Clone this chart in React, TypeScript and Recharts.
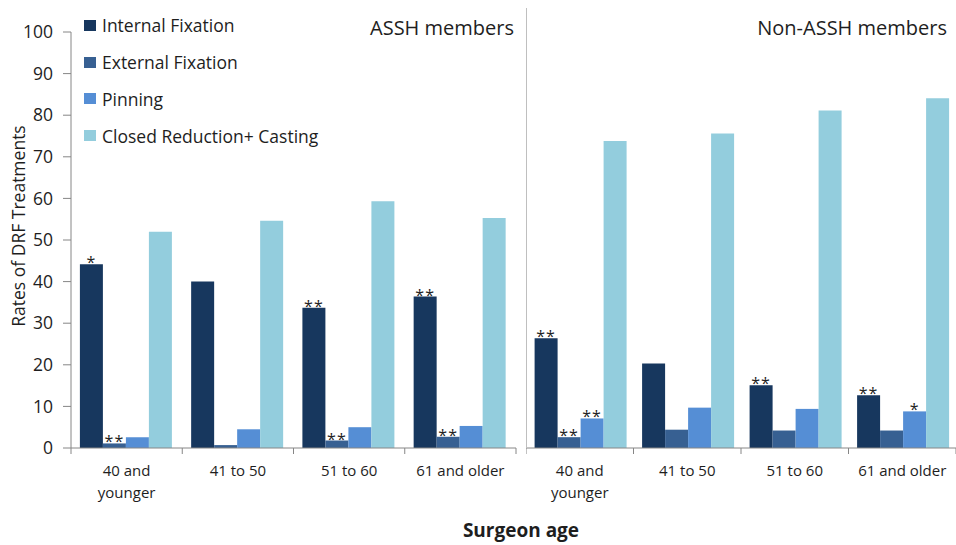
import React from 'react';
import { BarChart, Bar, XAxis, YAxis, LabelList, Legend } from 'recharts';

const categories = ['40 and younger', '41 to 50', '51 to 60', '61 and older'];
const categoryLabelLines = [['40 and', 'younger'], ['41 to 50'], ['51 to 60'], ['61 and older']];
const seriesNames = ['Internal Fixation', 'External Fixation', 'Pinning', 'Closed Reduction+ Casting'];
const seriesColors = ['#17375e', '#376092', '#558ed5', '#93cddd'];
const yTicks = [0, 10, 20, 30, 40, 50, 60, 70, 80, 90, 100];
const panelTitles = ['ASSH members', 'Non-ASSH members'];
const yAxisTitle = 'Rates of DRF Treatments';
const xAxisTitle = 'Surgeon age';

// ASSH members
const asshInternal = [44.2, 40.0, 33.7, 36.4];
const asshExternal = [1.1, 0.7, 1.8, 2.7];
const asshPinning = [2.6, 4.5, 5.0, 5.3];
const asshClosed = [52.0, 54.6, 59.3, 55.3];
const asshInternalSig = ['*', '', '**', '**'];
const asshExternalSig = ['**', '', '**', '**'];
const asshPinningSig = ['', '', '', ''];

// Non-ASSH members
const nonInternal = [26.4, 20.3, 15.1, 12.7];
const nonExternal = [2.6, 4.4, 4.2, 4.2];
const nonPinning = [7.1, 9.7, 9.4, 8.8];
const nonClosed = [73.8, 75.6, 81.1, 84.1];
const nonInternalSig = ['**', '', '**', '**'];
const nonExternalSig = ['**', '', '', ''];
const nonPinningSig = ['**', '', '', '*'];

const FONT = "'Open Sans', 'Noto Sans', sans-serif";
const TEXT = '#1e1e1e';
const AXIS = '#868686';

function buildRows(
  internal: number[], external: number[], pinning: number[], closed: number[],
  iSig: string[], eSig: string[], pSig: string[]
) {
  return categories.map((c, i) => ({
    category: c,
    internal: internal[i],
    external: external[i],
    pinning: pinning[i],
    closed: closed[i],
    internalSig: iSig[i],
    externalSig: eSig[i],
    pinningSig: pSig[i],
  }));
}

const asshRows = buildRows(asshInternal, asshExternal, asshPinning, asshClosed, asshInternalSig, asshExternalSig, asshPinningSig);
const nonRows = buildRows(nonInternal, nonExternal, nonPinning, nonClosed, nonInternalSig, nonExternalSig, nonPinningSig);

const SigLabel = (props: any) => {
  const { x, y, width, value } = props;
  if (!value) return null;
  return (
    <text
      x={Number(x) + Number(width) / 2}
      y={Number(y) + 4}
      textAnchor="middle"
      fontSize={16}
      fontFamily={FONT}
      fill={TEXT}
      letterSpacing={1}
    >
      {value}
    </text>
  );
};

const XTick = (props: any) => {
  const { x, y, payload, index, width, visibleTicksCount } = props;
  const count = visibleTicksCount || categories.length;
  const half = typeof payload?.offset === 'number' && payload.offset > 0 ? payload.offset : Number(width) / count / 2;
  const lines = categoryLabelLines[index] ?? [String(payload?.value)];
  return (
    <g>
      <line x1={x - half} x2={x - half} y1={y} y2={y + 6} stroke={AXIS} />
      {index === count - 1 && <line x1={x + half} x2={x + half} y1={y} y2={y + 6} stroke={AXIS} />}
      <text x={x} y={y + 28} textAnchor="middle" fontSize={15} fontFamily={FONT} fill={TEXT}>
        {lines.map((l, k) => (
          <tspan key={k} x={x} dy={k === 0 ? 0 : 22}>{l}</tspan>
        ))}
      </text>
    </g>
  );
};

const LegendContent = (props: any) => {
  const payload = [...(props.payload || [])].sort(
    (a: any, b: any) => seriesNames.indexOf(a.value) - seriesNames.indexOf(b.value)
  );
  return (
    <div style={{ fontFamily: FONT, height: 0, overflow: 'visible' }}>
      {payload.map((e: any, i: number) => (
        <div key={i} style={{ display: 'flex', alignItems: 'center', height: 36.8 }}>
          <span style={{ display: 'inline-block', width: 12, height: 11, background: e.color, marginRight: 6 }} />
          <span style={{ fontSize: 17.5, color: TEXT, lineHeight: '20px', whiteSpace: 'nowrap' }}>{e.value}</span>
        </div>
      ))}
    </div>
  );
};

function renderBars(showLegend: boolean) {
  const keys = ['internal', 'external', 'pinning', 'closed'];
  return keys.map((k, i) => (
    <Bar
      key={k}
      dataKey={k}
      name={seriesNames[i]}
      fill={seriesColors[i]}
      isAnimationActive={false}
      legendType={showLegend ? 'square' : 'none'}
    >
      {i < 3 && <LabelList dataKey={`${k}Sig`} content={SigLabel} />}
    </Bar>
  ));
}

export default function App() {
  return (
    <div style={{ position: 'absolute', left: 0, top: 0, width: 956, height: 545, background: '#fff', fontFamily: FONT, overflow: 'hidden' }}>
      <div style={{ position: 'absolute', left: 0, top: 0 }}>
        <BarChart width={526} height={545} data={asshRows} margin={{ top: 32, right: 10, bottom: 37, left: 0 }} barCategoryGap="8%" barGap={0}>
          <YAxis
            domain={[0, 100]}
            ticks={yTicks}
            interval={0}
            width={71}
            tickSize={8}
            tickMargin={10}
            axisLine={{ stroke: AXIS }}
            tickLine={{ stroke: AXIS }}
            tick={{ fontSize: 17.5, fill: TEXT, fontFamily: FONT }}
          />
          <XAxis
            dataKey="category"
            interval={0}
            height={60}
            tickLine={false}
            tickSize={0}
            tickMargin={0}
            axisLine={{ stroke: AXIS }}
            tick={<XTick />}
          />
          <Legend
            layout="vertical"
            align="center"
            verticalAlign="top"
            wrapperStyle={{ left: 84, top: 7, width: 280, height: 0 }}
            content={LegendContent}
          />
          {renderBars(true)}
        </BarChart>
      </div>
      <div style={{ position: 'absolute', left: 526, top: 0 }}>
        <BarChart width={430} height={545} data={nonRows} margin={{ top: 32, right: 0, bottom: 37, left: 0 }} barCategoryGap="8%" barGap={0}>
          <YAxis domain={[0, 100]} ticks={yTicks} hide />
          <XAxis
            dataKey="category"
            interval={0}
            height={60}
            tickLine={false}
            tickSize={0}
            tickMargin={0}
            axisLine={{ stroke: AXIS }}
            tick={<XTick />}
          />
          {renderBars(false)}
        </BarChart>
      </div>
      <svg width={956} height={545} style={{ position: 'absolute', left: 0, top: 0, pointerEvents: 'none' }}>
        <line x1={526.5} x2={526.5} y1={8} y2={448} stroke="#bfbfbf" />
        <text x={514} y={35} textAnchor="end" fontSize={20} fontFamily={FONT} fill={TEXT}>{panelTitles[0]}</text>
        <text x={947} y={35} textAnchor="end" fontSize={20} fontFamily={FONT} fill={TEXT}>{panelTitles[1]}</text>
        <text x={25} y={226} transform="rotate(-90 25 226)" textAnchor="middle" fontSize={17.5} fontFamily={FONT} fill={TEXT}>{yAxisTitle}</text>
        <text x={521} y={537} textAnchor="middle" fontSize={19} fontWeight="bold" fontFamily={FONT} fill={TEXT}>{xAxisTitle}</text>
      </svg>
    </div>
  );
}
